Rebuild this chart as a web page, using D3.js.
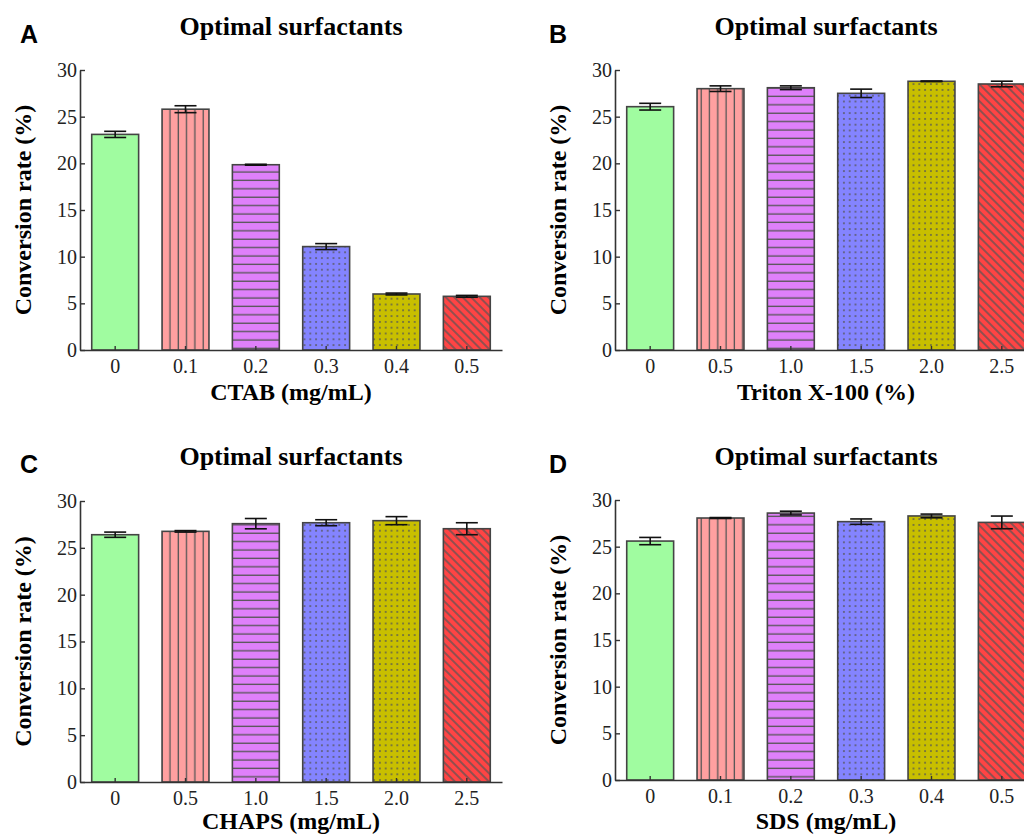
<!DOCTYPE html>
<html>
<head>
<meta charset="utf-8">
<script src="https://cdn.jsdelivr.net/npm/d3@7"></script>
<style>
  body { margin: 0; background: #fff; }
  svg { display: block; }
  .tick text { font-family: "Liberation Serif", serif; font-size: 20px; fill: #222; }
</style>
</head>
<body>
<div id="container-chart"></div>
<script>
// ---- data ----
const catsA = ["0", "0.1", "0.2", "0.3", "0.4", "0.5"];
const valsA = [23.1, 25.8, 19.85, 11.08, 6.0, 5.75];
const errA  = [0.33, 0.37, 0.05, 0.32, 0.1, 0.1];

const catsB = ["0", "0.5", "1.0", "1.5", "2.0", "2.5"];
const valsB = [26.07, 28.0, 28.1, 27.5, 28.79, 28.5];
const errB  = [0.36, 0.3, 0.2, 0.45, 0.03, 0.3];

const catsC = ["0", "0.5", "1.0", "1.5", "2.0", "2.5"];
const valsC = [26.4, 26.76, 27.58, 27.68, 27.9, 27.04];
const errC  = [0.28, 0.08, 0.55, 0.32, 0.43, 0.64];

const catsD = ["0", "0.1", "0.2", "0.3", "0.4", "0.5"];
const valsD = [25.6, 28.07, 28.6, 27.68, 28.29, 27.6];
const errD  = [0.39, 0.05, 0.2, 0.29, 0.2, 0.68];

const yTicks = [0, 5, 10, 15, 20, 25, 30];
const fills = ["#a0fca0", "#ffa0a0", "#df80fa", "#8484ff", "#c8bf00", "#ff4444"];
const patterns = ["none", "vert", "horiz", "dots", "dots", "diag"];

const panels = [
  {letter: "A", xlabel: "CTAB (mg/mL)",       cats: catsA, vals: valsA, errs: errA, x0: 80,  top: 70,  bottom: 350, lx: 20,  ly: 43,  ty: 35},
  {letter: "B", xlabel: "Triton X-100 (%)",   cats: catsB, vals: valsB, errs: errB, x0: 615, top: 70,  bottom: 350, lx: 549, ly: 43,  ty: 35},
  {letter: "C", xlabel: "CHAPS (mg/mL)",      cats: catsC, vals: valsC, errs: errC, x0: 80,  top: 501, bottom: 782, lx: 20,  ly: 473, ty: 465},
  {letter: "D", xlabel: "SDS (mg/mL)",        cats: catsD, vals: valsD, errs: errD, x0: 615, top: 500, bottom: 780, lx: 549, ly: 473, ty: 465}
];

const W = 1024, H = 834;
const plotW = 422;
const lineCol = "#555";

const svg = d3.select("#container-chart")
  .append("svg")
  .attr("width", W)
  .attr("height", H);

// hatch patterns
const defs = svg.append("defs");
function makePatterns() {
  let p = defs.append("pattern").attr("id", "vert")
    .attr("patternUnits", "userSpaceOnUse").attr("width", 8.3).attr("height", 10);
  p.append("line").attr("x1", 4).attr("x2", 4).attr("y1", 0).attr("y2", 10)
    .attr("stroke", lineCol).attr("stroke-width", 1.3);

  p = defs.append("pattern").attr("id", "horiz")
    .attr("patternUnits", "userSpaceOnUse").attr("width", 10).attr("height", 8.4);
  p.append("line").attr("x1", 0).attr("x2", 10).attr("y1", 4).attr("y2", 4)
    .attr("stroke", lineCol).attr("stroke-width", 1.3);

  p = defs.append("pattern").attr("id", "dots")
    .attr("patternUnits", "userSpaceOnUse").attr("width", 5.8).attr("height", 5.8);
  p.append("rect").attr("x", 2.1).attr("y", 2.1).attr("width", 1.6).attr("height", 1.6)
    .attr("fill", "#555");

  p = defs.append("pattern").attr("id", "diag")
    .attr("patternUnits", "userSpaceOnUse").attr("width", 6).attr("height", 6)
    .attr("patternTransform", "rotate(45)");
  p.append("line").attr("x1", 0).attr("x2", 6).attr("y1", 3).attr("y2", 3)
    .attr("stroke", lineCol).attr("stroke-width", 1.3);
}
makePatterns();

function drawPanel(cfg) {
  const g = svg.append("g");

  const x = d3.scaleBand()
    .domain(cfg.cats)
    .range([cfg.x0, cfg.x0 + plotW])
    .paddingInner(0.333)
    .paddingOuter(0.1667);

  const y = d3.scaleLinear()
    .domain([0, 30])
    .range([cfg.bottom, cfg.top]);

  const rows = cfg.cats.map((c, i) => ({cat: c, v: cfg.vals[i], e: cfg.errs[i], i: i}));

  // bars: colour fill then pattern overlay
  const bars = g.selectAll(".bar").data(rows).join("g").attr("class", "bar");
  bars.append("rect")
    .attr("x", d => x(d.cat))
    .attr("y", d => y(d.v))
    .attr("width", x.bandwidth())
    .attr("height", d => y(0) - y(d.v))
    .attr("fill", d => fills[d.i]);
  bars.filter(d => patterns[d.i] != "none").append("rect")
    .attr("x", d => x(d.cat))
    .attr("y", d => y(d.v))
    .attr("width", x.bandwidth())
    .attr("height", d => y(0) - y(d.v))
    .attr("fill", d => "url(#" + patterns[d.i] + ")");
  bars.append("rect")
    .attr("x", d => x(d.cat))
    .attr("y", d => y(d.v))
    .attr("width", x.bandwidth())
    .attr("height", d => y(0) - y(d.v))
    .attr("fill", "none")
    .attr("stroke", "#444")
    .attr("stroke-width", 1.6);

  // error bars
  const cap = 11;
  const eb = g.selectAll(".err").data(rows).join("g").attr("class", "err")
    .attr("stroke", "#111").attr("stroke-width", 1.6);
  eb.append("line")
    .attr("x1", d => x(d.cat) + x.bandwidth() / 2).attr("x2", d => x(d.cat) + x.bandwidth() / 2)
    .attr("y1", d => y(d.v + d.e)).attr("y2", d => y(d.v - d.e));
  eb.append("line")
    .attr("x1", d => x(d.cat) + x.bandwidth() / 2 - cap).attr("x2", d => x(d.cat) + x.bandwidth() / 2 + cap)
    .attr("y1", d => y(d.v + d.e)).attr("y2", d => y(d.v + d.e));
  eb.append("line")
    .attr("x1", d => x(d.cat) + x.bandwidth() / 2 - cap).attr("x2", d => x(d.cat) + x.bandwidth() / 2 + cap)
    .attr("y1", d => y(d.v - d.e)).attr("y2", d => y(d.v - d.e));

  // axes
  const xa = g.append("g")
    .attr("transform", "translate(0," + cfg.bottom + ")")
    .call(d3.axisBottom(x).tickSizeInner(-4).tickSizeOuter(0).tickPadding(9));
  const ya = g.append("g")
    .attr("transform", "translate(" + cfg.x0 + ",0)")
    .call(d3.axisLeft(y).tickValues(yTicks).tickSizeInner(-5).tickSizeOuter(0).tickPadding(3));
  [xa, ya].forEach(a => {
    a.select(".domain").attr("stroke", "#333").attr("stroke-width", 1.6);
    a.selectAll(".tick line").attr("stroke", "#333").attr("stroke-width", 1.4);
  });

  // titles and labels
  g.append("text")
    .attr("x", cfg.x0 + 211).attr("y", cfg.ty)
    .attr("text-anchor", "middle")
    .style("font-family", "'Liberation Serif', serif")
    .style("font-weight", "bold").style("font-size", "26px")
    .text("Optimal surfactants");

  g.append("text")
    .attr("x", cfg.lx).attr("y", cfg.ly)
    .style("font-family", "'Liberation Sans', Arial, sans-serif")
    .style("font-weight", "bold").style("font-size", "25px")
    .text(cfg.letter);

  g.append("text")
    .attr("x", cfg.x0 + 211).attr("y", Math.min(cfg.bottom + 50, 829))
    .attr("text-anchor", "middle")
    .style("font-family", "'Liberation Serif', serif")
    .style("font-weight", "bold").style("font-size", "24px")
    .text(cfg.xlabel);

  g.append("text")
    .attr("transform", "translate(" + (cfg.x0 - 49) + "," + ((cfg.top + cfg.bottom) / 2) + ") rotate(-90)")
    .attr("text-anchor", "middle")
    .style("font-family", "'Liberation Serif', serif")
    .style("font-weight", "bold").style("font-size", "24px")
    .text("Conversion rate (%)");
}

panels.forEach(drawPanel);
</script>
</body>
</html>
